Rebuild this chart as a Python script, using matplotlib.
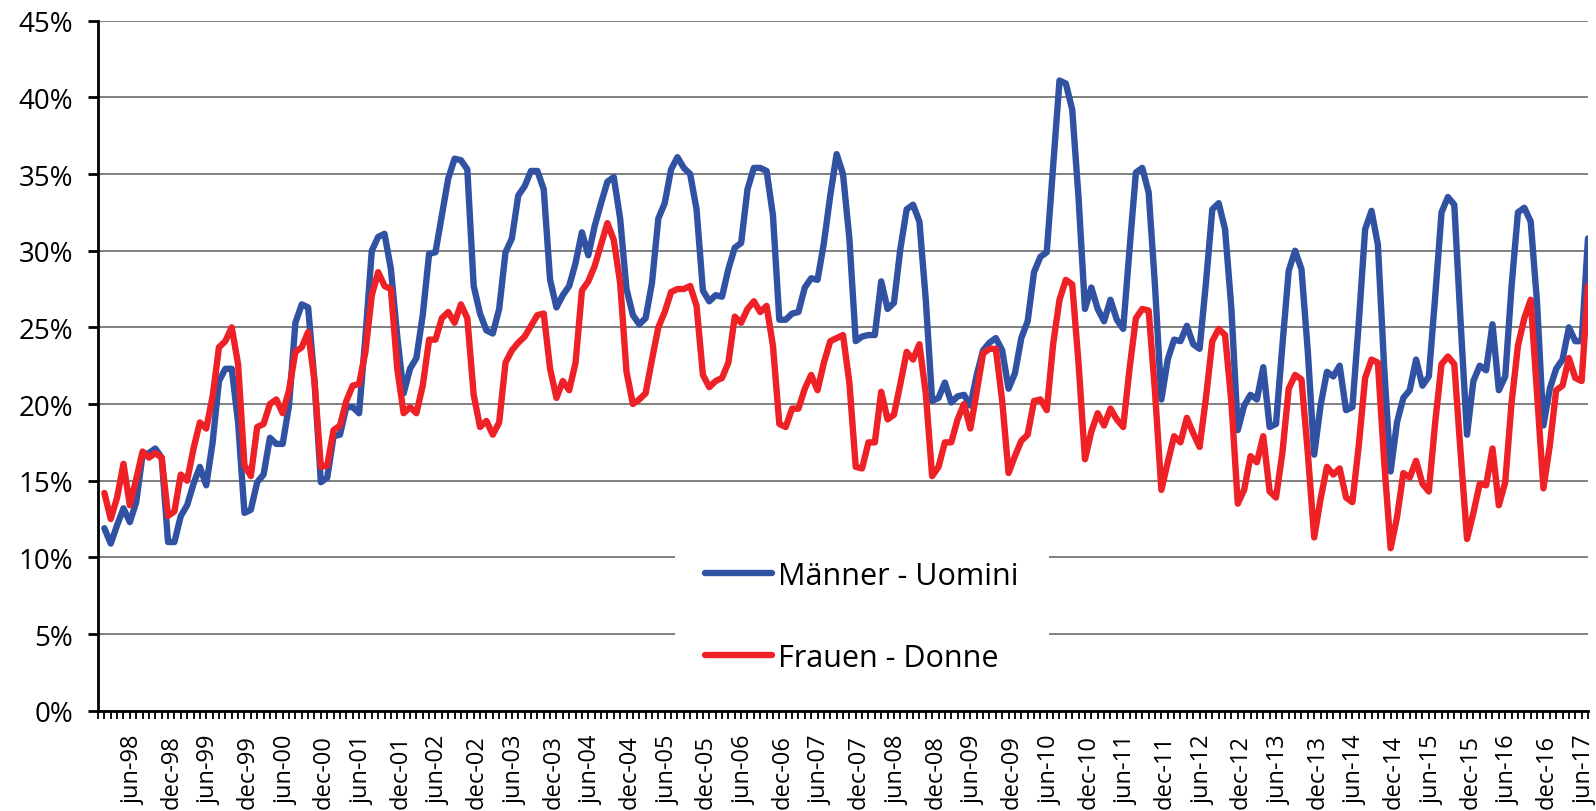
import numpy as np
import pandas as pd
import matplotlib
matplotlib.use("Agg")
import matplotlib.pyplot as plt

plt.rcParams['font.family'] = ['Open Sans', 'DejaVu Sans']

# monthly share, jan-98 .. jun-17 (values in %)
months = pd.date_range('1998-01-01', periods=234, freq='MS')

men = [
    11.9, 10.9, 12.1, 13.2, 12.3, 13.6, 16.7, 16.8, 17.1, 16.5, 11.0, 11.0,
    12.7, 13.4, 14.8, 15.9, 14.7, 17.5, 21.5, 22.3, 22.3, 18.8, 12.9, 13.1,
    14.9, 15.4, 17.8, 17.4, 17.4, 19.9, 25.3, 26.5, 26.3, 21.5, 14.9, 15.2,
    17.9, 18.0, 19.8, 19.8, 19.4, 24.4, 30.0, 30.9, 31.1, 28.8, 24.4, 20.7,
    22.3, 23.0, 25.8, 29.8, 29.9, 32.3, 34.7, 36.0, 35.9, 35.3, 27.7, 25.9,
    24.8, 24.6, 26.2, 29.9, 30.8, 33.6, 34.2, 35.2, 35.2, 34.0, 28.1, 26.3,
    27.1, 27.7, 29.2, 31.2, 29.7, 31.6, 33.1, 34.5, 34.8, 32.1, 27.5, 25.8,
    25.2, 25.6, 27.9, 32.1, 33.1, 35.3, 36.1, 35.4, 35.0, 32.7, 27.4, 26.7,
    27.1, 27.0, 28.8, 30.2, 30.5, 34.0, 35.4, 35.4, 35.2, 32.3, 25.5, 25.5,
    25.9, 26.0, 27.6, 28.2, 28.1, 30.5, 33.6, 36.3, 35.0, 30.8, 24.1, 24.4,
    24.5, 24.5, 28.0, 26.2, 26.6, 30.1, 32.7, 33.0, 31.9, 26.8, 20.2, 20.4,
    21.4, 20.1, 20.5, 20.6, 19.9, 21.9, 23.5, 24.0, 24.3, 23.5, 21.0, 22.0,
    24.3, 25.4, 28.6, 29.6, 29.9, 35.5, 41.1, 40.9, 39.2, 33.4, 26.2, 27.6,
    26.2, 25.4, 26.8, 25.5, 24.9, 30.1, 35.1, 35.4, 33.8, 27.7, 20.3, 22.9,
    24.2, 24.1, 25.1, 23.9, 23.6, 27.9, 32.7, 33.1, 31.4, 26.2, 18.3, 19.9,
    20.6, 20.3, 22.4, 18.5, 18.7, 23.8, 28.7, 30.0, 28.8, 23.4, 16.7, 19.9,
    22.1, 21.8, 22.5, 19.6, 19.8, 25.3, 31.4, 32.6, 30.4, 22.3, 15.6, 18.8,
    20.4, 20.9, 22.9, 21.2, 21.8, 27.0, 32.5, 33.5, 33.0, 25.3, 18.0, 21.5,
    22.5, 22.2, 25.2, 20.9, 21.8, 27.7, 32.5, 32.8, 31.9, 26.6, 18.6, 21.0,
    22.3, 22.9, 25.0, 24.1, 24.1, 30.8,
]

women = [
    14.2, 12.5, 13.9, 16.1, 13.4, 15.1, 16.9, 16.5, 16.8, 16.5, 12.7, 13.0,
    15.4, 15.0, 17.1, 18.8, 18.4, 20.5, 23.7, 24.1, 25.0, 22.6, 16.0, 15.3,
    18.5, 18.7, 20.0, 20.3, 19.4, 20.9, 23.4, 23.7, 24.7, 21.5, 15.9, 16.0,
    18.3, 18.6, 20.2, 21.2, 21.3, 23.4, 27.1, 28.6, 27.7, 27.5, 22.3, 19.4,
    19.8, 19.4, 21.2, 24.2, 24.2, 25.6, 26.0, 25.3, 26.5, 25.6, 20.6, 18.5,
    18.9, 18.0, 18.8, 22.7, 23.5, 24.0, 24.4, 25.1, 25.8, 25.9, 22.3, 20.4,
    21.5, 20.9, 22.7, 27.4, 28.0, 29.0, 30.4, 31.8, 30.7, 27.9, 22.1, 20.0,
    20.3, 20.7, 22.9, 25.0, 26.0, 27.3, 27.5, 27.5, 27.7, 26.4, 21.9, 21.1,
    21.5, 21.7, 22.7, 25.7, 25.3, 26.2, 26.7, 26.0, 26.4, 23.8, 18.7, 18.5,
    19.7, 19.7, 21.0, 21.9, 20.9, 22.7, 24.1, 24.3, 24.5, 21.4, 15.9, 15.8,
    17.5, 17.5, 20.8, 19.0, 19.3, 21.3, 23.4, 22.9, 23.9, 20.7, 15.3, 15.9,
    17.5, 17.5, 19.0, 20.0, 18.4, 20.8, 23.3, 23.6, 23.6, 20.2, 15.5, 16.6,
    17.6, 18.0, 20.2, 20.3, 19.6, 23.9, 26.8, 28.1, 27.8, 22.6, 16.4, 18.2,
    19.4, 18.6, 19.7, 19.0, 18.5, 22.3, 25.6, 26.2, 26.1, 20.8, 14.4, 16.2,
    17.9, 17.5, 19.1, 18.1, 17.2, 20.4, 24.1, 24.9, 24.5, 20.1, 13.5, 14.4,
    16.6, 16.2, 17.9, 14.3, 13.9, 16.8, 21.0, 21.9, 21.6, 16.8, 11.3, 13.8,
    15.9, 15.4, 15.8, 13.9, 13.6, 17.3, 21.7, 22.9, 22.7, 16.2, 10.6, 12.6,
    15.5, 15.2, 16.3, 14.8, 14.3, 18.8, 22.6, 23.1, 22.6, 16.8, 11.2, 12.9,
    14.8, 14.7, 17.1, 13.4, 14.9, 20.1, 23.8, 25.6, 26.8, 20.7, 14.5, 17.3,
    20.9, 21.2, 23.0, 21.7, 21.5, 27.7,
]

series_labels = ['Männer - Uomini', 'Frauen - Donne']
series_colors = ['#3152a3', '#ed2126']

# every 6th month gets a label: jun-98, dec-98, ...
label_idx = np.arange(5, len(months), 6)
tick_labels = [months[i].strftime('%b-%y').lower() for i in label_idx]

yticks = np.arange(0, 50, 5)

fig = plt.figure(figsize=(15.96, 8.12), dpi=100)
ax = fig.add_axes([98 / 1596, (812 - 711.7) / 812, 1490 / 1596, 690 / 812])

# category axis: points sit on the tick after their month
x = np.arange(1, len(months) + 1)
for vals, lab, col in zip([men, women], series_labels, series_colors):
    ax.plot(x, vals, color=col, lw=4.6, label=lab,
            solid_joinstyle='round', solid_capstyle='round')

ax.set_xlim(0, len(months))
ax.set_ylim(0, 45)

ax.set_yticks(yticks)
ax.set_yticklabels([f'{v}%' for v in yticks])
ax.yaxis.grid(True, color='#6b6b6b', lw=1.2)
ax.set_axisbelow(True)

ax.set_xticks(label_idx + 0.5)
ax.set_xticklabels(tick_labels)
ax.set_xticks(np.arange(0, len(months) + 1), minor=True)

ax.tick_params(axis='x', which='major', length=0, pad=17, labelsize=17,
               labelrotation=90)
ax.tick_params(axis='x', which='minor', direction='out', length=6, width=1.3,
               color='black')
ax.tick_params(axis='y', direction='out', length=7, width=2, pad=11,
               labelsize=20)

for side in ['top', 'right']:
    ax.spines[side].set_visible(False)
for side in ['left', 'bottom']:
    ax.spines[side].set_linewidth(2)
    ax.spines[side].set_color('black')

# white legend box interrupts the 5% and 10% gridlines
leg = ax.legend(loc='center', bbox_to_anchor=(0.5128, 0.136), frameon=True,
                facecolor='white', edgecolor='none', framealpha=1,
                fancybox=False, fontsize=22, handlelength=2.19,
                handletextpad=0.2, borderpad=1.0, labelspacing=1.72,
                borderaxespad=0)

fig.savefig('out.png', dpi=100)
